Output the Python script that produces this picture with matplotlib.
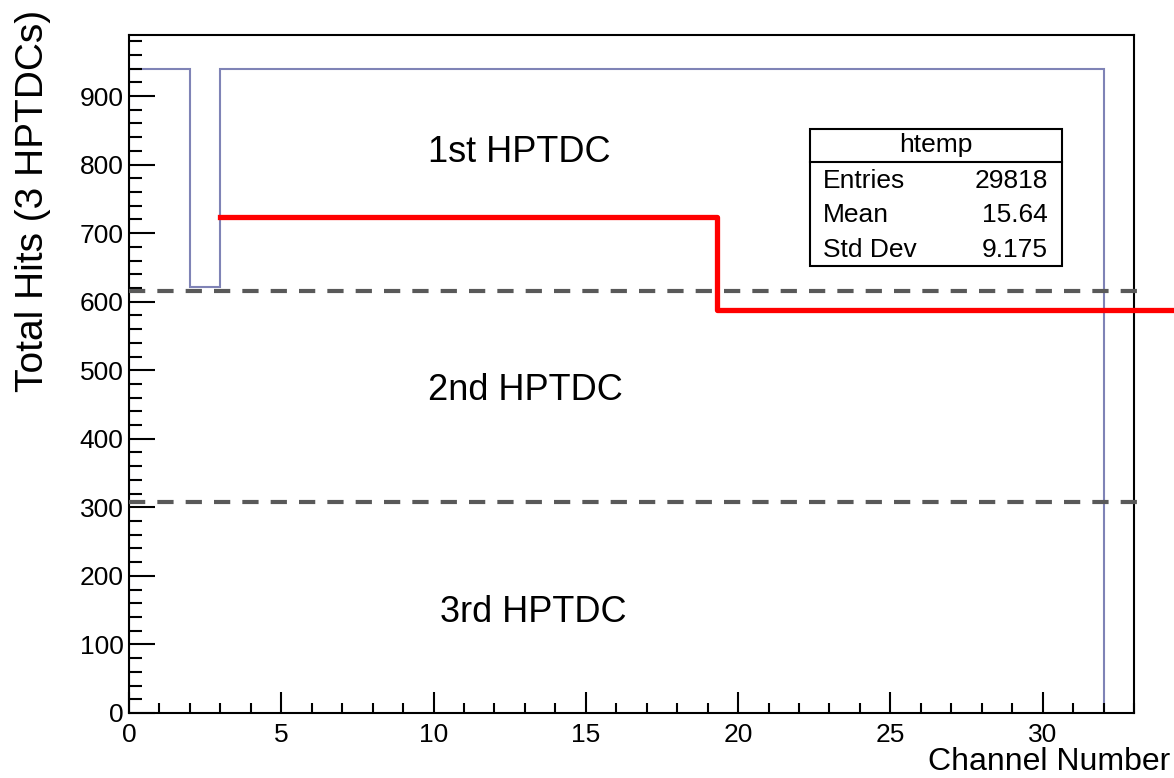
import numpy as np
import matplotlib
matplotlib.use("Agg")
import matplotlib.pyplot as plt
from matplotlib.ticker import MultipleLocator
from matplotlib.patches import Rectangle

plt.rcParams['font.family'] = ['Liberation Sans', 'DejaVu Sans']

# hits per channel (channels 0..31)
channel_edges = list(range(33))
hits_per_channel = [940, 940, 621, 940, 940, 940, 940, 940,
                    940, 940, 940, 940, 940, 940, 940, 940,
                    940, 940, 940, 940, 940, 940, 940, 940,
                    940, 940, 940, 940, 940, 940, 940, 940]

# boundaries between the three HPTDCs
boundary_levels = [616, 308]
boundary_xmax = 33.1

# threshold step (red)
step_x = [3.0, 19.3, 19.3, 34.3]
step_y = [723, 723, 588, 588]

region_labels = ["1st HPTDC", "2nd HPTDC", "3rd HPTDC"]
region_x = [9.82, 9.82, 10.2]
region_y = [818, 471, 147]

stats_title = "htemp"
stats_names = ["Entries", "Mean", "Std Dev"]
stats_values = ["29818", "15.64", "9.175"]

fig = plt.figure(figsize=(11.74, 7.78), dpi=100)
ax = fig.add_axes([129/1174, 1 - 713/778, (1134 - 129)/1174, (713 - 35)/778])

ax.stairs(hits_per_channel, channel_edges, baseline=0, color='#7f83b6', lw=1.5)

for lvl in boundary_levels:
    ax.plot([0, boundary_xmax], [lvl, lvl], color='#595959', lw=3.0,
            dashes=(3.9, 2.9), clip_on=False, zorder=3)

ax.plot(step_x, step_y, color='#ff0000', lw=3.8, clip_on=False, zorder=4,
        solid_joinstyle='round')

for txt, x, y in zip(region_labels, region_x, region_y):
    ax.text(x, y, txt, fontsize=26, ha='left', va='center')

ax.set_xlim(0, 33)
ax.set_ylim(0, 989)
ax.xaxis.set_major_locator(MultipleLocator(5))
ax.xaxis.set_minor_locator(MultipleLocator(1))
ax.yaxis.set_major_locator(MultipleLocator(100))
ax.yaxis.set_minor_locator(MultipleLocator(20))
ax.tick_params(which='both', direction='in', top=False, right=False,
               width=1.5, labelsize=19)
ax.tick_params(axis='x', which='major', length=15, pad=7)
ax.tick_params(axis='x', which='minor', length=7.5)
ax.tick_params(axis='y', which='major', length=19, pad=4)
ax.tick_params(axis='y', which='minor', length=9.5)
for sp in ax.spines.values():
    sp.set_linewidth(1.5)

fig.text(1170/1174, 1 - 762/778, "Channel Number", fontsize=23,
         ha='right', va='center')
fig.text(33/1174, 1 - 201/778, "Total Hits (3 HPTDCs)", fontsize=28,
         rotation=90, ha='center', va='center')

# stats box
bx0, bx1, by0, by1, bsep = 810, 1062, 129, 266, 162
W, H = 1174, 778
fig.add_artist(Rectangle((bx0/W, 1 - by1/H), (bx1 - bx0)/W, (by1 - by0)/H,
                         transform=fig.transFigure, fill=True, facecolor='white',
                         edgecolor='black', lw=1.5, zorder=5))
fig.add_artist(plt.Line2D([bx0/W, bx1/W], [1 - bsep/H, 1 - bsep/H],
                          transform=fig.transFigure, color='black', lw=1.5, zorder=6))
fig.text((bx0 + bx1)/2/W, 1 - 145/H, stats_title, fontsize=19,
         ha='center', va='center', zorder=7)
for i, (name, val) in enumerate(zip(stats_names, stats_values)):
    yy = 1 - (181 + i*34.5)/H
    fig.text(823/W, yy, name, fontsize=19, ha='left', va='center', zorder=7)
    fig.text(1048/W, yy, val, fontsize=19, ha='right', va='center', zorder=7)

fig.savefig("out.png", dpi=100)
